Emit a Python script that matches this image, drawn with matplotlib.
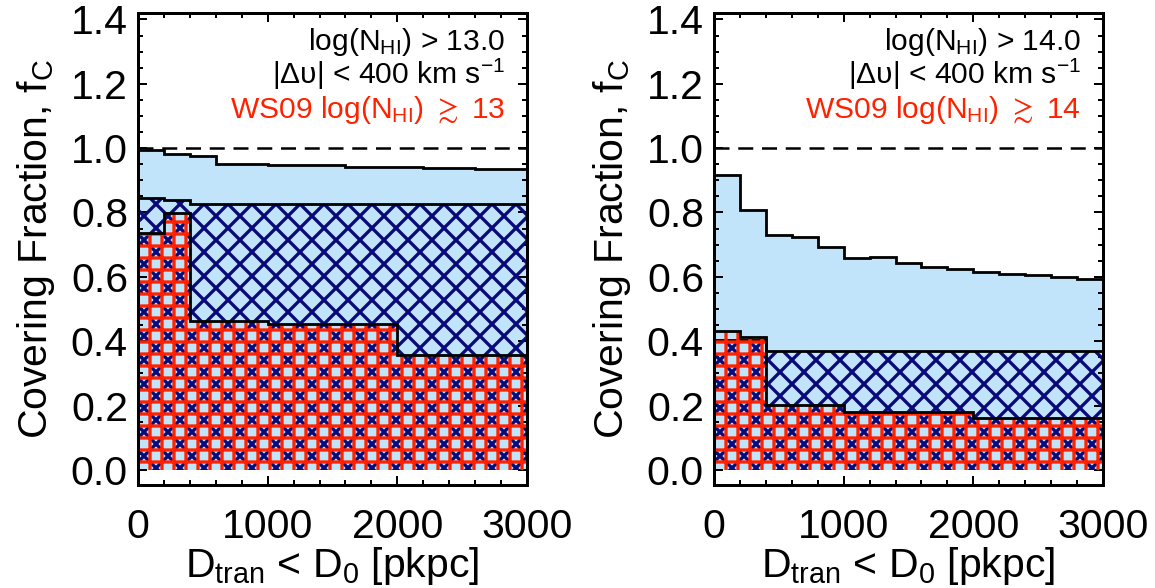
import numpy as np
import matplotlib
matplotlib.use("Agg")
import matplotlib.pyplot as plt
from matplotlib.ticker import MultipleLocator

plt.rcParams['font.family'] = ['Liberation Sans', 'DejaVu Sans']
plt.rcParams['mathtext.fontset'] = 'custom'
plt.rcParams['mathtext.rm'] = 'Liberation Sans'
plt.rcParams['mathtext.it'] = 'Liberation Sans:italic'
plt.rcParams['mathtext.bf'] = 'Liberation Sans:bold'
plt.rcParams['mathtext.fallback'] = 'stixsans'
plt.rcParams['hatch.linewidth'] = 3.3

# 200 pkpc bins for the survey, coarser bins for WS09
edges = np.arange(0, 3001, 200)
ws09_edges = [0, 200, 400, 1000, 2000, 3000]

# left panel: log(NHI) > 13
top_13 = [0.995, 0.983, 0.975, 0.952, 0.951, 0.948, 0.948, 0.947,
          0.942, 0.941, 0.940, 0.938, 0.937, 0.935, 0.935]
hatch_13 = [0.844, 0.839, 0.827, 0.827, 0.826, 0.826, 0.826, 0.826,
            0.826, 0.826, 0.826, 0.826, 0.826, 0.826, 0.826]
ws09_13 = [0.735, 0.797, 0.462, 0.452, 0.357]

# right panel: log(NHI) > 14
top_14 = [0.916, 0.807, 0.730, 0.725, 0.693, 0.660, 0.662, 0.644,
          0.631, 0.625, 0.614, 0.610, 0.607, 0.600, 0.594]
hatch_14 = [0.404, 0.403, 0.368, 0.370, 0.369, 0.369, 0.370, 0.369,
            0.368, 0.368, 0.368, 0.368, 0.368, 0.368, 0.368]
ws09_14 = [0.433, 0.413, 0.202, 0.181, 0.162]

labels = [(r'log(N$_{\rm HI}$) > 13.0', r'WS09 log(N$_{\rm HI}$) $\gtrsim$ 13'),
          (r'log(N$_{\rm HI}$) > 14.0', r'WS09 log(N$_{\rm HI}$) $\gtrsim$ 14')]

light = '#c2e4fa'
navy = '#0a0a78'
red = '#ff2200'
fs = 41

fig = plt.figure(figsize=(1155 / 72, 588 / 72), dpi=72)
axes = [fig.add_axes([138 / 1155, 103 / 588, 389 / 1155, 472 / 588]),
        fig.add_axes([714 / 1155, 103 / 588, 389 / 1155, 472 / 588])]

panels = [(top_13, hatch_13, ws09_13), (top_14, hatch_14, ws09_14)]

for ax, (top, hat, ws), (lab1, lab3) in zip(axes, panels, labels):
    ax.stairs(top, edges, fill=True, facecolor=light, edgecolor='none', zorder=1)
    ax.stairs(hat, edges, fill=True, facecolor='none', edgecolor=navy,
              hatch='x', linewidth=0, zorder=2)
    ax.stairs(hat, edges, fill=False, color='black', linewidth=2.8, zorder=3)
    ax.stairs(ws, ws09_edges, fill=True, facecolor='none', edgecolor=red,
              hatch='+', linewidth=0, zorder=4)
    ax.stairs(ws, ws09_edges, fill=False, color='black', linewidth=2.8, zorder=5)
    ax.stairs(top, edges, fill=False, color='black', linewidth=2.8, zorder=5)
    ax.axhline(1.0, color='black', linestyle=(0, (6, 3.5)), linewidth=2.5, zorder=6)

    ax.set_xlim(0, 3000)
    ax.set_ylim(-0.047, 1.42)
    ax.xaxis.set_major_locator(MultipleLocator(1000))
    ax.xaxis.set_minor_locator(MultipleLocator(200))
    ax.yaxis.set_major_locator(MultipleLocator(0.2))
    ax.yaxis.set_minor_locator(MultipleLocator(0.05))
    ax.yaxis.set_major_formatter(plt.FormatStrFormatter('%.1f'))
    ax.tick_params(which='both', direction='in', top=True, right=True, width=2)
    ax.tick_params(which='major', length=9, labelsize=fs)
    ax.tick_params(which='minor', length=5)
    ax.tick_params(axis='x', which='major', pad=23)
    ax.tick_params(axis='y', which='major', pad=10)
    for sp in ax.spines.values():
        sp.set_linewidth(3)
        sp.set_zorder(10)

    ax.set_xlabel(r'D$_{\rm tran}$ < D$_{\rm 0}$ [pkpc]', fontsize=fs, labelpad=-1)
    ax.set_ylabel(r'Covering Fraction, f$_{\rm C}$', fontsize=fs, labelpad=14)

    tx = 0.943
    ax.text(tx, 0.939, lab1, transform=ax.transAxes, ha='right', va='center',
            fontsize=30)
    ax.text(tx, 0.869, r'|Δυ| < 400 km s$^{-1}$', transform=ax.transAxes,
            ha='right', va='center', fontsize=30)
    ax.text(tx, 0.795, lab3, transform=ax.transAxes, ha='right', va='center',
            fontsize=30, color=red)

fig.savefig('out.png', dpi=72)
